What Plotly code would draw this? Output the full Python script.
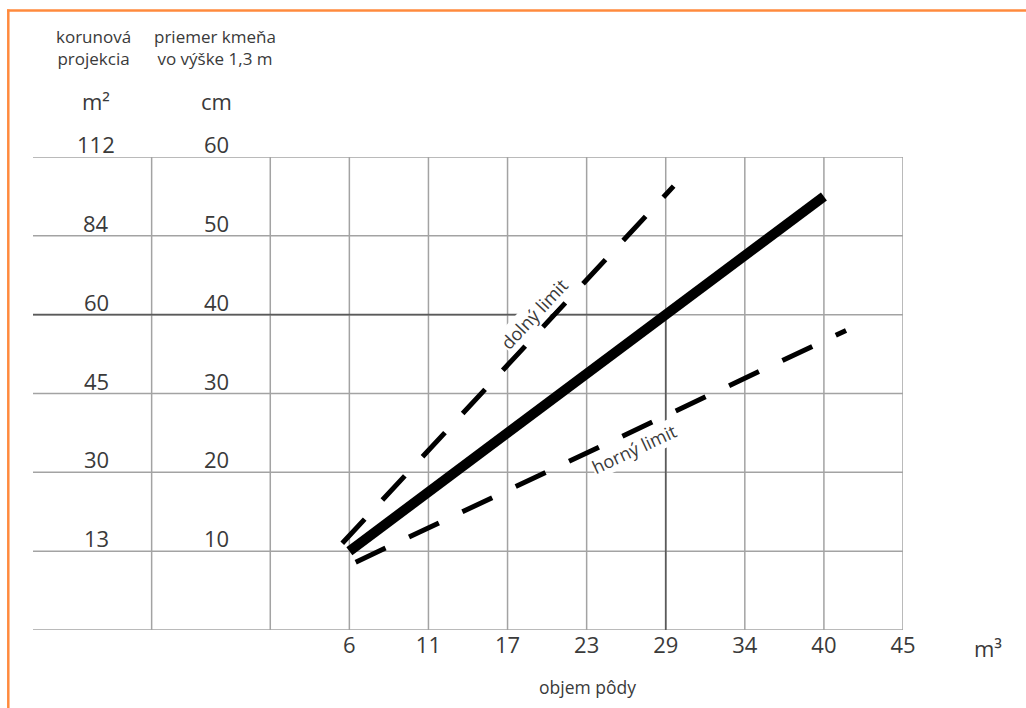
import numpy as np
import plotly.graph_objects as go

# ---- data ----
x_tick_labels = [6, 11, 17, 23, 29, 34, 40, 45]          # objem pôdy (m³)
cm_ticks = [10, 20, 30, 40, 50, 60]                      # priemer kmeňa (cm)
m2_ticks = [13, 30, 45, 60, 84, 112]                     # korunová projekcia (m²)

main_m3 = [6, 40]
main_cm = [10, 55]
dolny_m3 = [5.55, 29.5]
dolny_cm = [11.0, 56.3]
horny_m3 = [6.4, 41.4]
horny_cm = [8.6, 38.0]

guide_cm = 40
guide_m3 = 29

# ---- layout helpers (grid columns) ----
col_pos = [4, 5, 6, 7, 8, 9, 10, 11]   # equally spaced columns for the m³ ticks
label_cols = [1.5, 3]                  # separators of the two label columns
XMAX = 11
YMAX = 60


def to_u(v):
    xs = [1] + x_tick_labels + [50]
    us = [3] + col_pos + [12]
    return np.interp(v, xs, us)


W, H = 1026, 708
ML, MR, MT, MB = 33, 123, 157, 78
PW, PH = W - ML - MR, H - MT - MB


def px_x(p):
    return (p - ML) / PW


def px_y(p):
    return (H - MB - p) / PH


text_col = "#3a3a3a"
grid_col = "#a3a3a3"
dark_col = "#5a5a5a"
FONT = "Open Sans"

fig = go.Figure()

fig.add_trace(go.Scatter(x=to_u(np.array(dolny_m3)), y=dolny_cm, mode="lines",
                         line=dict(color="black", width=5, dash="33px,26px"),
                         hoverinfo="skip"))
fig.add_trace(go.Scatter(x=to_u(np.array(horny_m3)), y=horny_cm, mode="lines",
                         line=dict(color="black", width=5, dash="33px,26px"),
                         hoverinfo="skip"))
fig.add_trace(go.Scatter(x=to_u(np.array(main_m3)), y=main_cm, mode="lines",
                         line=dict(color="black", width=10),
                         hoverinfo="skip"))

shapes = []
for u in label_cols + col_pos:
    shapes.append(dict(type="line", xref="x", yref="y", x0=u, x1=u, y0=0, y1=YMAX,
                       line=dict(color=grid_col, width=1.5), layer="below"))
for c in [0] + cm_ticks:
    shapes.append(dict(type="line", xref="x", yref="y", x0=0, x1=XMAX, y0=c, y1=c,
                       line=dict(color=grid_col, width=1.5), layer="below"))
gu = float(to_u(guide_m3))
shapes.append(dict(type="line", xref="x", yref="y", x0=0, x1=gu, y0=guide_cm, y1=guide_cm,
                   line=dict(color=dark_col, width=1.7), layer="below"))
shapes.append(dict(type="line", xref="x", yref="y", x0=gu, x1=gu, y0=0, y1=guide_cm,
                   line=dict(color=dark_col, width=1.7), layer="below"))
orange = "#FF8A3D"
shapes.append(dict(type="line", xref="paper", yref="paper",
                   x0=px_x(7), x1=px_x(W + 2), y0=px_y(10.5), y1=px_y(10.5),
                   line=dict(color=orange, width=2.5)))
shapes.append(dict(type="line", xref="paper", yref="paper",
                   x0=px_x(8.3), x1=px_x(8.3), y0=px_y(9.5), y1=px_y(H + 2),
                   line=dict(color=orange, width=2.5)))

ann = []
for c, m2 in zip(cm_ticks, m2_ticks):
    ann.append(dict(x=0.8, y=c, xref="x", yref="y", text=str(m2), showarrow=False,
                    xanchor="center", yanchor="bottom", yshift=-4,
                    font=dict(size=22, color=text_col, family=FONT)))
    ann.append(dict(x=2.32, y=c, xref="x", yref="y", text=str(c), showarrow=False,
                    xanchor="center", yanchor="bottom", yshift=-4,
                    font=dict(size=22, color=text_col, family=FONT)))


def paper_text(px, py, text, size):
    return dict(x=px_x(px), y=px_y(py), xref="paper", yref="paper", text=text,
                showarrow=False, xanchor="center", yanchor="middle",
                font=dict(size=size, color=text_col, family=FONT))


ann.append(paper_text(93, 47, "korunová<br>projekcia", 17))
ann.append(paper_text(215, 47, "priemer kmeňa<br>vo výške 1,3 m", 17))
ann.append(paper_text(96, 101, "m²", 22))
ann.append(paper_text(216, 101, "cm", 22))
ann.append(paper_text(988, 648, "m³", 22))
ann.append(paper_text(587, 687, "objem pôdy", 17.5))

ann.append(dict(x=float(to_u(19)), y=40.1, xref="x", yref="y", text="dolný limit",
                showarrow=False, textangle=-47, bgcolor="white", borderpad=0,
                xanchor="center", yanchor="middle",
                font=dict(size=18, color=text_col, family=FONT)))
ann.append(dict(x=float(to_u(26.6)), y=22.9, xref="x", yref="y", text="horný limit",
                showarrow=False, textangle=-25, bgcolor="white", borderpad=0,
                xanchor="center", yanchor="middle",
                font=dict(size=18, color=text_col, family=FONT)))

fig.update_layout(
    width=W, height=H,
    margin=dict(l=ML, r=MR, t=MT, b=MB, pad=0),
    paper_bgcolor="white", plot_bgcolor="white",
    showlegend=False, hovermode=False,
    shapes=shapes, annotations=ann,
    xaxis=dict(range=[0, XMAX], showgrid=False, zeroline=False, showline=False,
               tickmode="array", tickvals=col_pos, ticktext=[str(v) for v in x_tick_labels],
               ticks="", tickfont=dict(size=22, color=text_col, family=FONT),
               fixedrange=True),
    yaxis=dict(range=[0, YMAX], showgrid=False, zeroline=False, showline=False,
               showticklabels=False, ticks="", fixedrange=True),
)

fig.write_html("out.html", config={"displayModeBar": False},
               post_script="document.body.style.margin='0px';document.body.style.overflow='hidden';")
